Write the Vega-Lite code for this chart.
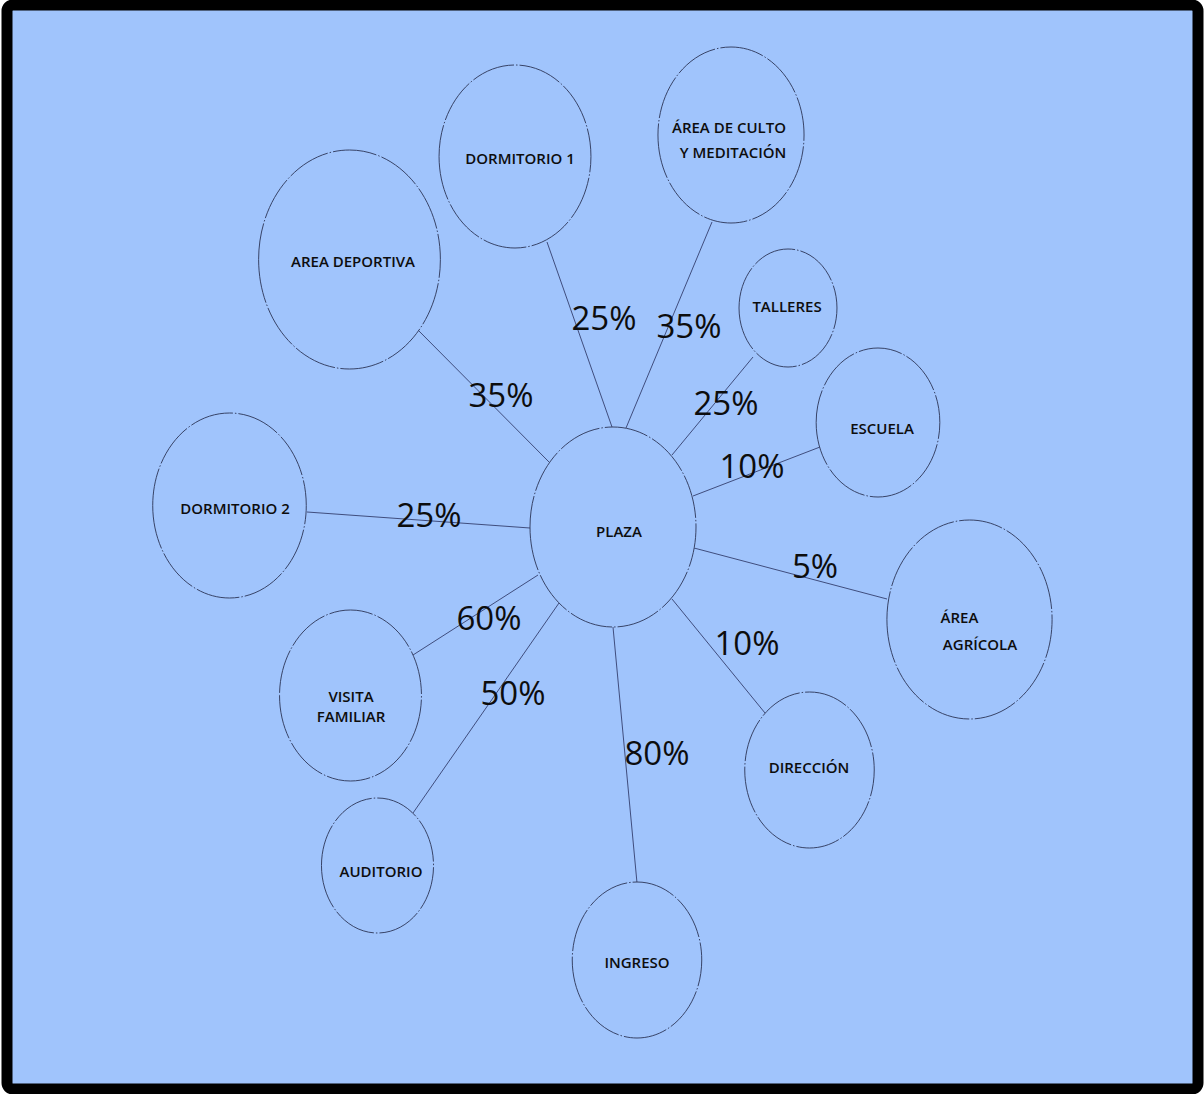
{
  "$schema": "https://vega.github.io/schema/vega-lite/v6.json",
  "width": 1191,
  "height": 1084,
  "autosize": {"type": "none"},
  "padding": {"left": 7, "top": 5, "right": 6, "bottom": 5},
  "background": "white",
  "config": {
    "view": {"fill": "#A0C4FC", "stroke": "#000000", "strokeWidth": 11, "cornerRadius": 6},
    "axis": {"disable": true}
  },
  "datasets": {
    "nodos": [
      {"espacio": "PLAZA", "x": 613, "y": 527, "h": 200},
      {"espacio": "DORMITORIO 1", "x": 515, "y": 156.5, "h": 183},
      {"espacio": "ÁREA DE CULTO Y MEDITACIÓN", "x": 731, "y": 135, "h": 176},
      {"espacio": "AREA DEPORTIVA", "x": 349.5, "y": 259.5, "h": 219},
      {"espacio": "TALLERES", "x": 788, "y": 308, "h": 118},
      {"espacio": "ESCUELA", "x": 878, "y": 422.5, "h": 149},
      {"espacio": "ÁREA AGRÍCOLA", "x": 969.5, "y": 619.5, "h": 199},
      {"espacio": "DIRECCIÓN", "x": 809.5, "y": 770, "h": 156},
      {"espacio": "INGRESO", "x": 637, "y": 960, "h": 156},
      {"espacio": "AUDITORIO", "x": 377.5, "y": 865.5, "h": 135},
      {"espacio": "VISITA FAMILIAR", "x": 350.5, "y": 695.5, "h": 171},
      {"espacio": "DORMITORIO 2", "x": 229.5, "y": 505.5, "h": 185}
    ],
    "enlaces": [
      {"hacia": "DORMITORIO 1", "x1": 547, "y1": 242, "x2": 612, "y2": 427, "porcentaje": "25%", "px": 604, "py": 330},
      {"hacia": "ÁREA DE CULTO Y MEDITACIÓN", "x1": 712, "y1": 222, "x2": 626, "y2": 428, "porcentaje": "35%", "px": 689, "py": 338},
      {"hacia": "AREA DEPORTIVA", "x1": 418, "y1": 330, "x2": 549, "y2": 462, "porcentaje": "35%", "px": 501, "py": 407},
      {"hacia": "TALLERES", "x1": 753, "y1": 357, "x2": 672, "y2": 455, "porcentaje": "25%", "px": 726, "py": 415},
      {"hacia": "ESCUELA", "x1": 820, "y1": 447, "x2": 693, "y2": 496, "porcentaje": "10%", "px": 752, "py": 478},
      {"hacia": "ÁREA AGRÍCOLA", "x1": 694, "y1": 548, "x2": 887, "y2": 599, "porcentaje": "5%", "px": 815, "py": 578},
      {"hacia": "DIRECCIÓN", "x1": 672, "y1": 599, "x2": 765, "y2": 713, "porcentaje": "10%", "px": 747, "py": 655},
      {"hacia": "INGRESO", "x1": 613, "y1": 627, "x2": 637, "y2": 883, "porcentaje": "80%", "px": 657, "py": 765},
      {"hacia": "AUDITORIO", "x1": 559, "y1": 603, "x2": 413, "y2": 813, "porcentaje": "50%", "px": 513, "py": 705},
      {"hacia": "VISITA FAMILIAR", "x1": 538, "y1": 575, "x2": 413, "y2": 655, "porcentaje": "60%", "px": 489, "py": 630},
      {"hacia": "DORMITORIO 2", "x1": 307, "y1": 512, "x2": 530, "y2": 528, "porcentaje": "25%", "px": 429, "py": 527}
    ],
    "rotulos": [
      {"texto": "PLAZA", "x": 619, "y": 537},
      {"texto": "DORMITORIO 1", "x": 520, "y": 164},
      {"texto": "ÁREA DE CULTO", "x": 729, "y": 133},
      {"texto": "Y MEDITACIÓN", "x": 733, "y": 158},
      {"texto": "AREA DEPORTIVA", "x": 353, "y": 267},
      {"texto": "TALLERES", "x": 787, "y": 312},
      {"texto": "ESCUELA", "x": 882, "y": 434},
      {"texto": "ÁREA", "x": 959.5, "y": 623},
      {"texto": "AGRÍCOLA", "x": 980, "y": 650},
      {"texto": "DIRECCIÓN", "x": 809, "y": 773},
      {"texto": "INGRESO", "x": 637, "y": 968},
      {"texto": "AUDITORIO", "x": 381, "y": 877},
      {"texto": "VISITA", "x": 351, "y": 702},
      {"texto": "FAMILIAR", "x": 351, "y": 722},
      {"texto": "DORMITORIO 2", "x": 235, "y": 514}
    ]
  },
  "layer": [
    {
      "data": {"name": "enlaces"},
      "mark": {"type": "rule", "color": "#34406e", "strokeWidth": 0.9},
      "encoding": {
        "x": {"field": "x1", "type": "quantitative", "scale": {"domain": [7, 1198], "nice": false, "zero": false}, "axis": null},
        "y": {"field": "y1", "type": "quantitative", "scale": {"domain": [5, 1089], "nice": false, "zero": false, "reverse": true}, "axis": null},
        "x2": {"field": "x2"},
        "y2": {"field": "y2"}
      }
    },
    {
      "data": {"name": "nodos"},
      "mark": {
        "type": "point",
        "shape": "M -0.83 0 A 0.83 1 0 1 0 0.83 0 A 0.83 1 0 1 0 -0.83 0 Z",
        "filled": false,
        "fill": "#A0C4FC",
        "fillOpacity": 1,
        "stroke": "#2b3456",
        "strokeWidth": 0.9,
        "strokeDash": [44, 2, 1.5, 2],
        "opacity": 1
      },
      "encoding": {
        "x": {"field": "x", "type": "quantitative", "axis": null},
        "y": {"field": "y", "type": "quantitative", "axis": null},
        "size": {"field": "h", "type": "quantitative", "scale": {"type": "pow", "exponent": 2, "domain": [0, 300], "range": [0, 90000], "zero": true}, "legend": null}
      }
    },
    {
      "data": {"name": "rotulos"},
      "mark": {"type": "text", "font": "Open Sans, sans-serif", "fontSize": 15, "fontWeight": 600, "color": "#0d0d0d", "align": "center", "baseline": "alphabetic"},
      "encoding": {
        "x": {"field": "x", "type": "quantitative", "axis": null},
        "y": {"field": "y", "type": "quantitative", "axis": null},
        "text": {"field": "texto"}
      }
    },
    {
      "data": {"name": "enlaces"},
      "mark": {"type": "text", "font": "Open Sans, sans-serif", "fontSize": 33, "fontWeight": 500, "color": "#0d0d0d", "align": "center", "baseline": "alphabetic"},
      "encoding": {
        "x": {"field": "px", "type": "quantitative", "axis": null},
        "y": {"field": "py", "type": "quantitative", "axis": null},
        "text": {"field": "porcentaje"}
      }
    }
  ]
}
